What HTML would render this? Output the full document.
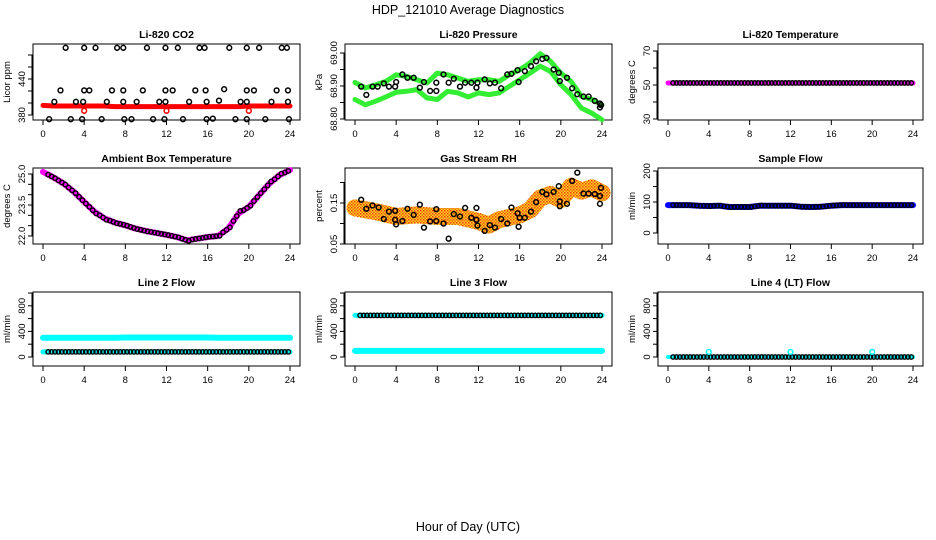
<!DOCTYPE html>
<html><head><meta charset="utf-8"><style>
body{margin:0;background:#fff}
svg{display:block;font-family:"Liberation Sans",sans-serif}
</style></head><body>
<svg id="c" width="936" height="540" viewBox="0 0 936 540" xmlns="http://www.w3.org/2000/svg">
<defs><pattern id="rhpat" width="3" height="3" patternUnits="userSpaceOnUse"><rect width="3" height="3" fill="#ffe020"/><rect width="1.5" height="1.5" fill="#f03010"/><rect x="1.5" y="1.5" width="1.5" height="1.5" fill="#f06010"/></pattern></defs>
<text x="468" y="14" text-anchor="middle" font-size="12.5">HDP_121010  Average Diagnostics</text>
<text x="468" y="531" text-anchor="middle" font-size="12.5">Hour of Day (UTC)</text>
</svg>
<script>
const hours=[0,1,2,3,4,5,6,7,8,9,10,11,12,13,14,15,16,17,18,19,20,21,22,23,24];
const xTicks=[0,4,8,12,16,20,24];
// CO2
const co2Red=[396,395,395,395,395,395,395,394,394,394,394,394,394,394,394,394,394,394,394,394,395,395,395,395,395];
const co2RedOutH=[4,12,20];const co2RedOutV=[387,387,387];
const co2BlackH=[2.2,4.0,5.1,7.2,7.8,10.1,11.9,13.1,15.2,15.7,18.1,19.8,21.0,23.2,23.7,1.7,4.0,4.5,6.7,7.8,9.7,11.9,12.6,14.8,15.8,17.6,19.8,20.5,22.7,23.8,1.1,3.2,3.9,6.2,7.8,9.1,11.3,11.9,14.2,15.9,17.1,19.2,19.8,22.2,23.8,0.6,2.7,3.8,5.7,7.9,8.6,10.7,11.8,13.6,15.9,16.5,18.7,19.8,21.6,23.9];
const co2BlackV=[492,492,492,492,492,492,492,492,492,492,492,492,492,492,492,421,421,421,421,421,421,421,421,421,421,423,421,421,421,421,402,402,402,402,402,402,402,402,402,402,404,402,402,402,402,373,373,373,373,373,373,373,373,373,373,374,373,373,373,373];
// Pressure
const pressUpper=[68.911,68.894,68.904,68.914,68.934,68.929,68.919,68.909,68.939,68.934,68.924,68.914,68.919,68.919,68.914,68.934,68.949,68.970,68.998,68.975,68.939,68.914,68.869,68.859,68.843];
const pressLower=[68.859,68.843,68.854,68.867,68.881,68.884,68.889,68.864,68.859,68.884,68.879,68.867,68.879,68.874,68.879,68.899,68.919,68.939,68.960,68.944,68.904,68.874,68.833,68.818,68.798];
const pressBlackH=[0.6,1.1,1.7,2.2,2.8,3.3,3.9,4.0,4.6,5.1,5.7,6.3,6.7,7.3,7.9,7.9,8.6,9.1,9.6,10.2,10.7,11.3,11.8,11.9,12.6,13.1,13.6,14.2,14.8,15.2,15.8,15.9,16.5,17.1,17.6,18.2,18.6,19.3,19.8,19.9,20.6,21.1,21.6,22.2,22.7,23.3,23.8,23.8,23.9];
const pressBlackV=[68.898,68.873,68.898,68.898,68.908,68.898,68.898,68.912,68.935,68.925,68.925,68.895,68.912,68.885,68.885,68.910,68.935,68.910,68.922,68.898,68.910,68.910,68.895,68.910,68.920,68.908,68.910,68.893,68.935,68.937,68.948,68.912,68.945,68.960,68.975,68.982,68.985,68.950,68.940,68.915,68.925,68.893,68.875,68.868,68.868,68.855,68.847,68.835,68.842];
// Li-820 temperature
const tempVals=[51.2,51.2,51.2,51.2,51.2,51.2,51.2,51.2,51.2,51.2,51.2,51.2,51.2,51.2,51.2,51.2,51.2,51.2,51.2,51.2,51.2,51.2,51.2,51.2,51.2];
// Ambient box temperature
const ambVals=[25.1,24.84,24.54,24.14,23.65,23.17,22.84,22.65,22.52,22.36,22.24,22.15,22.06,21.95,21.79,21.87,21.95,22.0,22.36,23.09,23.41,23.98,24.54,24.95,25.19];
// RH
const rhBandH=[0,2,4,6,8,10,12,13,14,16,17,18,19,20,21,22,23,24];
const rhBandV=[0.138,0.129,0.117,0.121,0.117,0.117,0.105,0.096,0.109,0.121,0.133,0.162,0.171,0.158,0.191,0.179,0.187,0.175];
const rhBlackH=[0.6,1.1,1.7,2.3,2.8,3.3,3.9,3.9,4.0,4.6,5.1,5.7,6.3,6.7,7.3,7.9,7.9,8.6,9.1,9.6,10.2,10.7,11.3,11.8,11.8,11.9,12.6,13.1,13.6,14.2,14.8,15.2,15.8,15.9,16.0,16.5,17.1,17.6,18.2,18.6,19.3,19.8,19.9,19.9,20.6,21.1,21.6,22.2,22.7,23.3,23.8,23.8,23.9];
const rhBlackV=[0.158,0.136,0.144,0.139,0.111,0.129,0.131,0.109,0.098,0.106,0.136,0.121,0.146,0.090,0.105,0.106,0.135,0.100,0.063,0.123,0.117,0.138,0.114,0.109,0.138,0.095,0.082,0.096,0.090,0.111,0.100,0.139,0.125,0.092,0.114,0.114,0.129,0.152,0.177,0.171,0.177,0.191,0.154,0.142,0.148,0.204,0.224,0.173,0.173,0.172,0.167,0.148,0.187];
// Sample flow
const sampleVals=[90,90,90,88,87,88,84,84,84,88,88,88,88,85,84,85,88,90,90,90,90,90,90,90,90];
// Line flows
const line2Cyan=[300,300,300,300,300,300,300,300,305,305,305,305,305,305,305,305,305,300,300,300,300,300,300,300,300];
const line2Black=[80,80,80,80,80,80,80,80,80,80,80,80,80,80,80,80,80,80,80,80,80,80,80,80,80];
const line3Black=[650,650,650,650,650,650,650,650,650,650,650,650,650,650,650,650,650,650,650,650,650,650,650,650,650];
const line3Cyan=[95,95,95,95,95,95,95,95,95,95,95,95,95,95,95,95,95,95,95,95,95,95,95,95,95];
const line4Black=[0,0,0,0,0,0,0,0,0,0,0,0,0,0,0,0,0,0,0,0,0,0,0,0,0];
const line4OutH=[4,12,20];const line4OutV=[80,80,80];

const svg=document.getElementById('c');const NS='http://www.w3.org/2000/svg';
function mk(tag,attrs,parent){const e=document.createElementNS(NS,tag);for(const k in attrs)e.setAttribute(k,attrs[k]);(parent||svg).appendChild(e);return e;}
const colX0=[43,355,668],colW=[247,247,245],rowTop=[44,168,292],rowBot=[120,244,366];
function panel(col,row,v0,p0,v1,p1,ticks,labelTicks,title,ylab,name){
  const g=mk('g',{});
  
  
  const x=h=>colX0[col]+h/24*colW[col];
  const y=v=>p0+(v-v0)/(v1-v0)*(p1-p0);
  const L=colX0[col]-10,R=colX0[col]+colW[col]+10,T=rowTop[row],B=rowBot[row];
  const box=mk('rect',{x:L,y:T,width:R-L,height:B-T,fill:'none',stroke:'#000','stroke-width':1},g);
  
  
  const t=mk('text',{x:(L+R)/2,y:T-6,'text-anchor':'middle','font-size':10.5,'font-weight':'bold'},g);t.textContent=title;
  
  
  const yl=mk('text',{transform:`translate(${L-23},${(T+B)/2}) rotate(-90)`,'text-anchor':'middle','font-size':9.5},g);yl.textContent=ylab;
  
  
  mk('line',{x1:L-1,x2:L-1,y1:y(ticks[0]),y2:y(ticks[ticks.length-1]),stroke:'#000'},g);
  ticks.forEach((tv,i)=>{mk('line',{x1:L-5,x2:L,y1:y(tv),y2:y(tv),stroke:'#000'},g);
    if(labelTicks[i]){const lt=mk('text',{transform:`translate(${L-8},${y(tv)}) rotate(-90)`,'text-anchor':'middle','font-size':9.5},g);lt.textContent=labelTicks[i];
    
    }});
  xTicks.forEach(h=>{mk('line',{x1:x(h),x2:x(h),y1:B,y2:B+5,stroke:'#000'},g);
    const xt=mk('text',{x:x(h),y:B+17,'text-anchor':'middle','font-size':9.5},g);xt.textContent=h;
    
    });
  return {g,x,y};
}
function band(p,hs,vs,color,w,name){const d=hs.map((h,i)=>(i?'L':'M')+p.x(h).toFixed(1)+','+p.y(vs[i]).toFixed(1)).join('');
  const e=mk('path',{d,fill:'none',stroke:color,'stroke-width':w,'stroke-linejoin':'round','stroke-linecap':'round'},p.g);
  
  return e;}
function pts(p,hs,vs,color,name,r){hs.forEach((h,i)=>{const c=mk('circle',{cx:p.x(h),cy:p.y(vs[i]),r:r||2.4,fill:'none',stroke:color,'stroke-width':1.5},p.g);
  
  });}
function densePts(p,vals,color,name){for(let i=0;i<24;i++){for(let k=0;k<3;k++){const h=i+0.5+k/3;if(h>24)continue;
  const c=mk('circle',{cx:p.x(h),cy:p.y(vals[i]+(vals[i+1]-vals[i])*(k/3+0.5)),r:2.2,fill:'none',stroke:color,'stroke-width':1.4},p.g);
  
  }}}

// Row 1
let p=panel(0,0,380,115,480,55,[380,400,420,440,460,480],['380','','','440','',''],'Li-820 CO2','Licor ppm','co2');
band(p,hours,co2Red,'#ff0000',5,'co2-red-series');pts(p,co2RedOutH,co2RedOutV,'#ff0000','co2-red-outlier');pts(p,co2BlackH,co2BlackV,'#000','co2-black-point');
p=panel(1,0,68.8,119,69.0,53,[68.8,68.85,68.9,68.95,69.0],['68.80','','68.90','','69.00'],'Li-820 Pressure','kPa','pressure');
band(p,hours,pressUpper,'#33ee33',5,'pressure-upper-series');band(p,hours,pressLower,'#33ee33',5,'pressure-lower-series');pts(p,pressBlackH,pressBlackV,'#000','pressure-black-point');
p=panel(2,0,30,119,70,51,[30,40,50,60,70],['30','','50','','70'],'Li-820 Temperature','degrees C','li820-temp');
band(p,hours,tempVals,'#ff00ff',5,'li820-temp-series');densePts(p,tempVals,'#000','li820-temp-point');
// Row 2
p=panel(0,1,22,236,25,174,[22,22.5,23,23.5,24,24.5,25],['22.0','','','23.5','','','25.0'],'Ambient Box Temperature','degrees C','ambient');
band(p,hours,ambVals,'#ff00ff',6,'ambient-series');densePts(p,ambVals,'#000','ambient-point');
p=panel(1,1,0.05,244,0.15,203,[0.05,0.1,0.15,0.2],['0.05','','0.15',''],'Gas Stream RH','percent','rh');
band(p,rhBandH,rhBandV,'url(#rhpat)',17,'rh-band');
pts(p,rhBlackH,rhBlackV,'#000','rh-black-point');
p=panel(2,1,0,233,200,171,[0,50,100,150,200],['0','','100','','200'],'Sample Flow','ml/min','sample-flow');
band(p,hours,sampleVals,'#0000ff',6,'sample-flow-series');densePts(p,sampleVals,'#000','sample-flow-point');
// Row 3
const fT=[0,200,400,600,800,1000],fL=['0','','400','','800',''];
p=panel(0,2,0,357,1000,293,fT,fL,'Line 2 Flow','ml/min','line2');
band(p,hours,line2Cyan,'#00ffff',6,'line2-cyan-series');band(p,hours,line2Black,'#00ffff',5,'line2-base');densePts(p,line2Black,'#000','line2-point');
p=panel(1,2,0,357,1000,293,fT,fL,'Line 3 Flow','ml/min','line3');
band(p,hours,line3Black,'#00ffff',5,'line3-base');densePts(p,line3Black,'#000','line3-point');band(p,hours,line3Cyan,'#00ffff',6,'line3-cyan-series');
p=panel(2,2,0,357,1000,293,fT,fL,'Line 4 (LT) Flow','ml/min','line4');
band(p,hours,line4Black,'#00ffff',4,'line4-base');densePts(p,line4Black,'#000','line4-point');pts(p,line4OutH,line4OutV,'#00ffff','line4-outlier');
</script>
</body></html>
